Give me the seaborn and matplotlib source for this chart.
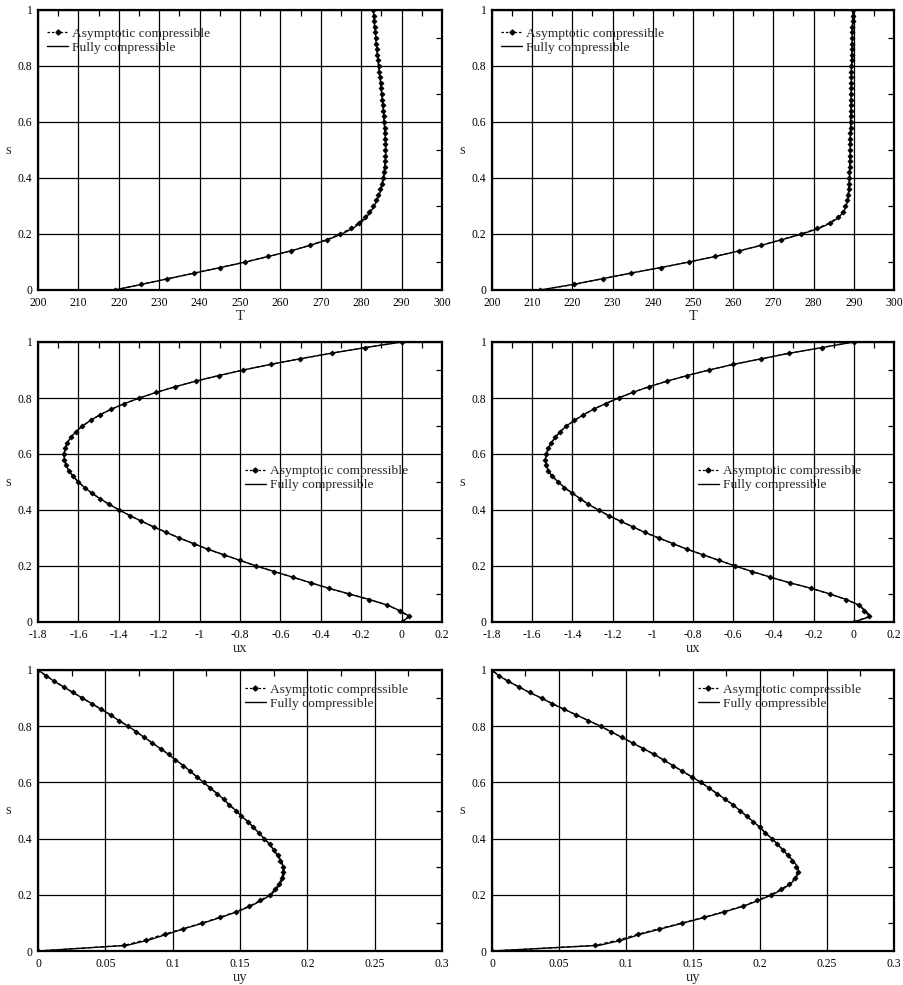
import matplotlib
matplotlib.use("Agg")
import matplotlib.pyplot as plt
from matplotlib.ticker import MultipleLocator, FuncFormatter
from matplotlib.lines import Line2D
import pandas as pd
import seaborn as sns

sns.set_style("white")
plt.rcParams["font.family"] = ["Liberation Serif", "DejaVu Serif"]

# wall-normal coordinate
S = [0.00, 0.02, 0.04, 0.06, 0.08, 0.10, 0.12, 0.14, 0.16, 0.18,
     0.20, 0.22, 0.24, 0.26, 0.28, 0.30, 0.32, 0.34, 0.36, 0.38,
     0.40, 0.42, 0.44, 0.46, 0.48, 0.50, 0.52, 0.54, 0.56, 0.58,
     0.60, 0.62, 0.64, 0.66, 0.68, 0.70, 0.72, 0.74, 0.76, 0.78,
     0.80, 0.82, 0.84, 0.86, 0.88, 0.90, 0.92, 0.94, 0.96, 0.98, 1.00]

# temperature, case 1
T1_asym = [219.0, 225.5, 232.0, 238.5, 245.0, 251.3, 257.0, 262.6, 267.3, 271.5,
           274.8, 277.4, 279.4, 280.9, 282.0, 282.9, 283.6, 284.2, 284.7, 285.1,
           285.4, 285.6, 285.8, 285.9, 286.0, 286.0, 286.0, 285.9, 285.9, 285.8,
           285.7, 285.6, 285.5, 285.4, 285.2, 285.1, 284.9, 284.8, 284.6, 284.5,
           284.3, 284.2, 284.0, 283.9, 283.7, 283.6, 283.5, 283.3, 283.2, 283.1, 283.0]
T1_full = [219.0, 225.6, 232.1, 238.6, 245.1, 251.4, 257.1, 262.7, 267.5, 271.8,
           275.2, 277.9, 279.9, 281.3, 282.4, 283.2, 283.9, 284.5, 284.9, 285.3,
           285.6, 285.8, 285.9, 286.0, 286.1, 286.1, 286.1, 286.0, 285.9, 285.8,
           285.7, 285.6, 285.5, 285.4, 285.2, 285.1, 284.9, 284.8, 284.6, 284.5,
           284.3, 284.2, 284.0, 283.9, 283.7, 283.6, 283.5, 283.3, 283.2, 283.1, 283.0]

# temperature, case 2
T2_asym = [212.0, 220.5, 227.5, 234.5, 242.0, 249.0, 255.5, 261.5, 267.0, 272.0,
           276.8, 280.9, 284.0, 286.0, 287.2, 287.9, 288.3, 288.5, 288.7, 288.8,
           288.9, 288.9, 289.0, 289.0, 289.0, 289.1, 289.1, 289.1, 289.1, 289.2,
           289.2, 289.2, 289.2, 289.3, 289.3, 289.3, 289.3, 289.4, 289.4, 289.4,
           289.4, 289.5, 289.5, 289.5, 289.5, 289.6, 289.6, 289.6, 289.7, 289.7, 289.8]
T2_full = [212.0, 220.2, 227.3, 234.4, 241.9, 249.0, 255.6, 261.6, 267.1, 272.2,
           277.1, 281.3, 284.4, 286.3, 287.5, 288.1, 288.5, 288.7, 288.8, 288.9,
           289.0, 289.0, 289.0, 289.1, 289.1, 289.1, 289.1, 289.1, 289.2, 289.2,
           289.2, 289.2, 289.3, 289.3, 289.3, 289.3, 289.4, 289.4, 289.4, 289.4,
           289.5, 289.5, 289.5, 289.5, 289.6, 289.6, 289.6, 289.7, 289.7, 289.7, 289.8]

# streamwise velocity, case 1
UX1_asym = [0.000, 0.035, -0.010, -0.070, -0.160, -0.260, -0.360, -0.450, -0.540, -0.630,
            -0.720, -0.800, -0.880, -0.960, -1.030, -1.100, -1.165, -1.228, -1.288, -1.345,
            -1.398, -1.447, -1.492, -1.533, -1.569, -1.600, -1.626, -1.647, -1.661, -1.669,
            -1.671, -1.666, -1.655, -1.637, -1.612, -1.580, -1.540, -1.493, -1.437, -1.372,
            -1.298, -1.215, -1.122, -1.020, -0.906, -0.783, -0.649, -0.503, -0.347, -0.179, 0.000]
UX1_full = [0.000, 0.040, -0.008, -0.068, -0.158, -0.258, -0.358, -0.449, -0.539, -0.629,
            -0.719, -0.800, -0.880, -0.960, -1.030, -1.100, -1.165, -1.228, -1.288, -1.345,
            -1.398, -1.447, -1.492, -1.533, -1.569, -1.600, -1.626, -1.647, -1.661, -1.669,
            -1.671, -1.666, -1.655, -1.637, -1.612, -1.580, -1.540, -1.493, -1.437, -1.372,
            -1.298, -1.215, -1.122, -1.020, -0.906, -0.783, -0.649, -0.503, -0.347, -0.179, 0.000]

# streamwise velocity, case 2
UX2_asym = [0.000, 0.078, 0.053, 0.025, -0.039, -0.120, -0.212, -0.319, -0.415, -0.505,
            -0.590, -0.670, -0.750, -0.830, -0.900, -0.970, -1.040, -1.100, -1.160, -1.220,
            -1.270, -1.320, -1.360, -1.400, -1.440, -1.470, -1.500, -1.520, -1.530, -1.535,
            -1.530, -1.520, -1.505, -1.485, -1.460, -1.430, -1.390, -1.345, -1.295, -1.235,
            -1.170, -1.100, -1.020, -0.930, -0.830, -0.720, -0.600, -0.460, -0.320, -0.160, 0.000]
UX2_full = [0.000, 0.085, 0.058, 0.028, -0.036, -0.118, -0.210, -0.318, -0.414, -0.505,
            -0.590, -0.670, -0.750, -0.830, -0.900, -0.970, -1.040, -1.100, -1.160, -1.220,
            -1.270, -1.320, -1.360, -1.400, -1.440, -1.470, -1.500, -1.520, -1.530, -1.535,
            -1.530, -1.520, -1.505, -1.485, -1.460, -1.430, -1.390, -1.345, -1.295, -1.235,
            -1.170, -1.100, -1.020, -0.930, -0.830, -0.720, -0.600, -0.460, -0.320, -0.160, 0.000]

# spanwise velocity, case 1
UY1_asym = [0.000, 0.064, 0.080, 0.094, 0.108, 0.122, 0.135, 0.147, 0.157, 0.165,
            0.172, 0.176, 0.179, 0.181, 0.182, 0.182, 0.180, 0.178, 0.175, 0.172,
            0.168, 0.164, 0.160, 0.156, 0.151, 0.147, 0.142, 0.138, 0.133, 0.128,
            0.123, 0.118, 0.113, 0.108, 0.102, 0.097, 0.091, 0.085, 0.079, 0.073,
            0.067, 0.060, 0.054, 0.047, 0.040, 0.033, 0.026, 0.019, 0.012, 0.006, 0.000]
UY1_full = [0.000, 0.066, 0.083, 0.096, 0.109, 0.123, 0.136, 0.148, 0.158, 0.166,
            0.173, 0.177, 0.180, 0.182, 0.183, 0.182, 0.181, 0.178, 0.175, 0.172,
            0.168, 0.164, 0.160, 0.156, 0.151, 0.147, 0.142, 0.138, 0.133, 0.128,
            0.123, 0.118, 0.113, 0.108, 0.102, 0.097, 0.091, 0.085, 0.079, 0.073,
            0.067, 0.060, 0.054, 0.047, 0.040, 0.033, 0.026, 0.019, 0.012, 0.006, 0.000]

# spanwise velocity, case 2
UY2_asym = [0.000, 0.077, 0.095, 0.109, 0.125, 0.142, 0.158, 0.173, 0.187, 0.198,
            0.208, 0.216, 0.222, 0.226, 0.228, 0.227, 0.224, 0.221, 0.217, 0.213,
            0.209, 0.204, 0.200, 0.195, 0.190, 0.185, 0.180, 0.174, 0.168, 0.162,
            0.156, 0.149, 0.142, 0.135, 0.128, 0.121, 0.113, 0.105, 0.097, 0.089,
            0.081, 0.072, 0.063, 0.054, 0.045, 0.037, 0.028, 0.020, 0.012, 0.005, 0.000]
UY2_full = [0.000, 0.080, 0.098, 0.111, 0.127, 0.143, 0.159, 0.174, 0.188, 0.199,
            0.209, 0.217, 0.223, 0.227, 0.229, 0.228, 0.225, 0.221, 0.217, 0.213,
            0.209, 0.204, 0.200, 0.195, 0.190, 0.185, 0.180, 0.174, 0.168, 0.162,
            0.156, 0.149, 0.142, 0.135, 0.128, 0.121, 0.113, 0.105, 0.097, 0.089,
            0.081, 0.072, 0.063, 0.054, 0.045, 0.037, 0.028, 0.020, 0.012, 0.005, 0.000]

LABEL_ASYM = "Asymptotic compressible"
LABEL_FULL = "Fully compressible"

W, H = 904, 985
fig = plt.figure(figsize=(W / 100, H / 100), dpi=100)


def axes_px(x0, x1, y0, y1):
    """Axes placed by pixel edges (left, right, top, bottom)."""
    return fig.add_axes([x0 / W, 1 - y1 / H, (x1 - x0) / W, (y1 - y0) / H])


def fmt(v, pos):
    s = f"{v:.2f}".rstrip("0").rstrip(".")
    if s == "-0":
        s = "0"
    return s


panels = [
    # x data (asym, full), x label, x range, major step, pixel box, legend anchor
    (T1_asym, T1_full, "T", (200, 300), 10, (38, 442, 10, 290), (0.01, 0.957)),
    (T2_asym, T2_full, "T", (200, 300), 10, (492, 894, 10, 290), (0.01, 0.957)),
    (UX1_asym, UX1_full, "ux", (-1.8, 0.2), 0.2, (38, 442, 342, 622), (0.5, 0.58)),
    (UX2_asym, UX2_full, "ux", (-1.8, 0.2), 0.2, (492, 894, 342, 622), (0.5, 0.58)),
    (UY1_asym, UY1_full, "uy", (0, 0.3), 0.05, (38, 442, 670, 951), (0.5, 0.972)),
    (UY2_asym, UY2_full, "uy", (0, 0.3), 0.05, (492, 894, 670, 951), (0.5, 0.972)),
]

for xa, xf, xlabel, xlim, major, box, anchor in panels:
    ax = axes_px(*box)
    df_a = pd.DataFrame({"x": xa, "s": S})
    df_f = pd.DataFrame({"x": xf, "s": S})
    sns.lineplot(data=df_f, x="x", y="s", sort=False, estimator=None, ax=ax,
                 color="black", lw=1.0, zorder=3)
    sns.lineplot(data=df_a, x="x", y="s", sort=False, estimator=None, ax=ax,
                 color="black", lw=0.9, ls=(0, (3, 2)), marker="D", markersize=2.6,
                 markeredgewidth=0.5, markeredgecolor="black", zorder=4)

    ax.set_xlim(*xlim)
    ax.set_ylim(0, 1)
    ax.xaxis.set_major_locator(MultipleLocator(major))
    ax.xaxis.set_minor_locator(MultipleLocator(major / 2))
    ax.yaxis.set_major_locator(MultipleLocator(0.2))
    ax.yaxis.set_minor_locator(MultipleLocator(0.1))
    ax.xaxis.set_major_formatter(FuncFormatter(fmt))
    ax.yaxis.set_major_formatter(FuncFormatter(fmt))
    ax.grid(True, which="major", color="black", lw=0.9)
    ax.tick_params(which="both", direction="in", top=True, right=True,
                   labelsize=8.4, colors="black")
    ax.tick_params(axis="x", which="major", length=0, pad=5)
    ax.tick_params(axis="y", which="major", length=0, pad=4)
    ax.tick_params(which="minor", length=4, width=0.9)
    for sp in ax.spines.values():
        sp.set_visible(True)
        sp.set_color("black")
        sp.set_linewidth(1.6)
    ax.set_xlabel(xlabel, fontsize=10.5, labelpad=1)
    ax.set_ylabel("s", fontsize=10.5, rotation=0, va="center", ha="center")
    ax.yaxis.set_label_coords(-0.075, 0.5)

    handles = [
        Line2D([], [], color="black", lw=0.9, ls=(0, (2, 1.5)), marker="D",
               markersize=2.6, markevery=[0, -1]),
        Line2D([], [], color="black", lw=1.0),
    ]
    ax.legend(handles, [LABEL_ASYM, LABEL_FULL], loc="upper left",
              bbox_to_anchor=anchor, frameon=False, fontsize=9.7,
              handlelength=1.5, handletextpad=0.3, labelspacing=0.12,
              borderaxespad=0.0)

fig.savefig("out.png", dpi=100, facecolor="white")
